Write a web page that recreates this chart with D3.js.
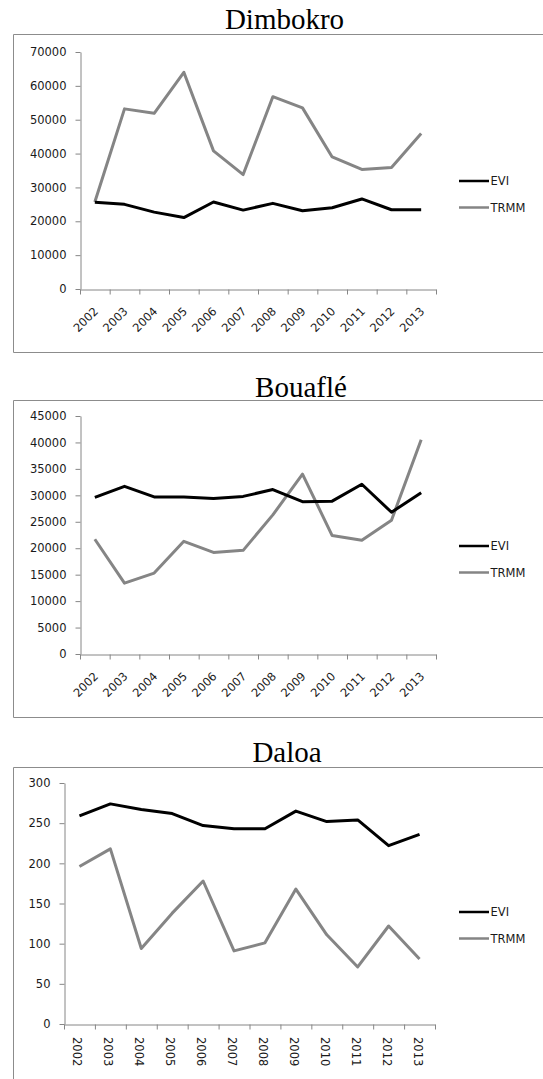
<!DOCTYPE html>
<html>
<head>
<meta charset="utf-8">
<script src="https://cdn.jsdelivr.net/npm/d3@7"></script>
<style>
  body { margin: 0; background: #fff; }
  svg { display: block; }
  .tick text, .cat { font-family: "DejaVu Sans", sans-serif; font-size: 11.5px; fill: #1a1a1a; }
  .title { font-family: "Liberation Serif", "Times New Roman", serif; font-size: 29px; fill: #000; }
  .legend text { font-family: "DejaVu Sans", sans-serif; font-size: 11.5px; fill: #1a1a1a; }
</style>
</head>
<body>
<svg id="chart" width="543" height="1079"></svg>
<script>
var years = ["2002","2003","2004","2005","2006","2007","2008","2009","2010","2011","2012","2013"];

var dimbokroEvi  = [25600, 25000, 22700, 21100, 25700, 23300, 25300, 23100, 24000, 26600, 23400, 23400];
var dimbokroTrmm = [25700, 53200, 51900, 64000, 40800, 33800, 56800, 53500, 39000, 35300, 35900, 45900];
var dimbokroTicks = [0, 10000, 20000, 30000, 40000, 50000, 60000, 70000];

var bouafleEvi  = [29600, 31700, 29700, 29700, 29400, 29800, 31100, 28800, 28900, 32100, 26800, 30500];
var bouafleTrmm = [21700, 13400, 15300, 21300, 19200, 19600, 26300, 34000, 22400, 21500, 25300, 40500];
var bouafleTicks = [0, 5000, 10000, 15000, 20000, 25000, 30000, 35000, 40000, 45000];

var daloaEvi  = [259, 274, 267, 262, 247, 243, 243, 265, 252, 254, 222, 236];
var daloaTrmm = [196, 218, 94, 138, 178, 91, 101, 168, 111, 71, 122, 81];
var daloaTicks = [0, 50, 100, 150, 200, 250, 300];

var seriesNames = ["EVI", "TRMM"];
var seriesColors = ["#000000", "#858585"];

var panels = [
  { title: "Dimbokro", titleX: 284.5, titleY: 29, box: [13, 34, 352], x0: 80, x1: 436, yTop: 52, yBottom: 289,
    max: 70000, ticks: dimbokroTicks, evi: dimbokroEvi, trmm: dimbokroTrmm, rotate: -45, legendY: 181 },
  { title: "Bouaflé", titleX: 301, titleY: 397, box: [13, 400, 717], x0: 80, x1: 436, yTop: 416, yBottom: 654,
    max: 45000, ticks: bouafleTicks, evi: bouafleEvi, trmm: bouafleTrmm, rotate: -45, legendY: 546 },
  { title: "Daloa", titleX: 287, titleY: 762, box: [13, 767, 1090], x0: 64, x1: 435, yTop: 783, yBottom: 1024,
    max: 300, ticks: daloaTicks, evi: daloaEvi, trmm: daloaTrmm, rotate: 90, legendY: 912 }
];

var svg = d3.select("#chart");

panels.forEach(function (p) {
  var g = svg.append("g");

  // frame, right edge runs off the page
  g.append("path")
    .attr("d", "M560," + (p.box[1] + 0.5) + "H" + (p.box[0] + 0.5) + "V" + (p.box[2] + 0.5) + "H560")
    .attr("fill", "none")
    .attr("stroke", "#8c8c8c")
    .attr("stroke-width", 1);

  g.append("text")
    .attr("class", "title")
    .attr("text-anchor", "middle")
    .attr("x", p.titleX)
    .attr("y", p.titleY)
    .text(p.title);

  var x = d3.scaleBand().domain(years).range([p.x0, p.x1]);
  var xEdge = d3.scaleLinear().domain([0, years.length]).range([p.x0, p.x1]);
  var y = d3.scaleLinear().domain([0, p.max]).range([p.yBottom, p.yTop]);

  var yAxis = g.append("g")
    .attr("transform", "translate(" + (p.x0 + 0.5) + ",0)")
    .call(d3.axisLeft(y).tickValues(p.ticks).tickSize(5).tickSizeOuter(0).tickPadding(9).tickFormat(d3.format("d")));

  var xAxis = g.append("g")
    .attr("transform", "translate(0," + (p.yBottom + 0.5) + ")")
    .call(d3.axisBottom(xEdge).tickValues(d3.range(years.length + 1)).tickSize(5).tickSizeOuter(0).tickFormat(""));

  [yAxis, xAxis].forEach(function (a) {
    a.select(".domain").attr("stroke", "#868686");
    a.selectAll(".tick line").attr("stroke", "#868686");
  });
  yAxis.selectAll("text").attr("fill", "#1a1a1a").style("font-family", "'DejaVu Sans', sans-serif").style("font-size", "11.5px");

  // category labels
  g.append("g").selectAll("text")
    .data(years)
    .enter().append("text")
    .attr("class", "cat")
    .attr("text-anchor", p.rotate < 0 ? "end" : "start")
    .attr("dy", p.rotate < 0 ? 0 : "0.35em")
    .attr("transform", function (d) {
      var cx = x(d) + x.bandwidth() / 2;
      if (p.rotate < 0) return "translate(" + (cx + 4) + "," + (p.yBottom + 23) + ") rotate(-45)";
      return "translate(" + (cx - 2) + "," + (p.yBottom + 13) + ") rotate(90)";
    })
    .text(function (d) { return d; });

  var line = d3.line()
    .x(function (d, i) { return x(years[i]) + x.bandwidth() / 2; })
    .y(function (d) { return y(d); });

  [p.trmm, p.evi].forEach(function (vals, k) {
    g.append("path")
      .datum(vals)
      .attr("fill", "none")
      .attr("stroke", k === 0 ? seriesColors[1] : seriesColors[0])
      .attr("stroke-width", 3)
      .attr("stroke-linejoin", "round")
      .attr("d", line);
  });

  var legend = g.append("g").attr("class", "legend");
  seriesNames.forEach(function (name, i) {
    var ly = p.legendY + i * 26.5;
    legend.append("line")
      .attr("x1", 459).attr("x2", 489)
      .attr("y1", ly).attr("y2", ly)
      .attr("stroke", seriesColors[i])
      .attr("stroke-width", 2.5);
    legend.append("text")
      .attr("x", 490.5).attr("y", ly)
      .attr("dy", "0.36em")
      .text(name);
  });
});
</script>
</body>
</html>
